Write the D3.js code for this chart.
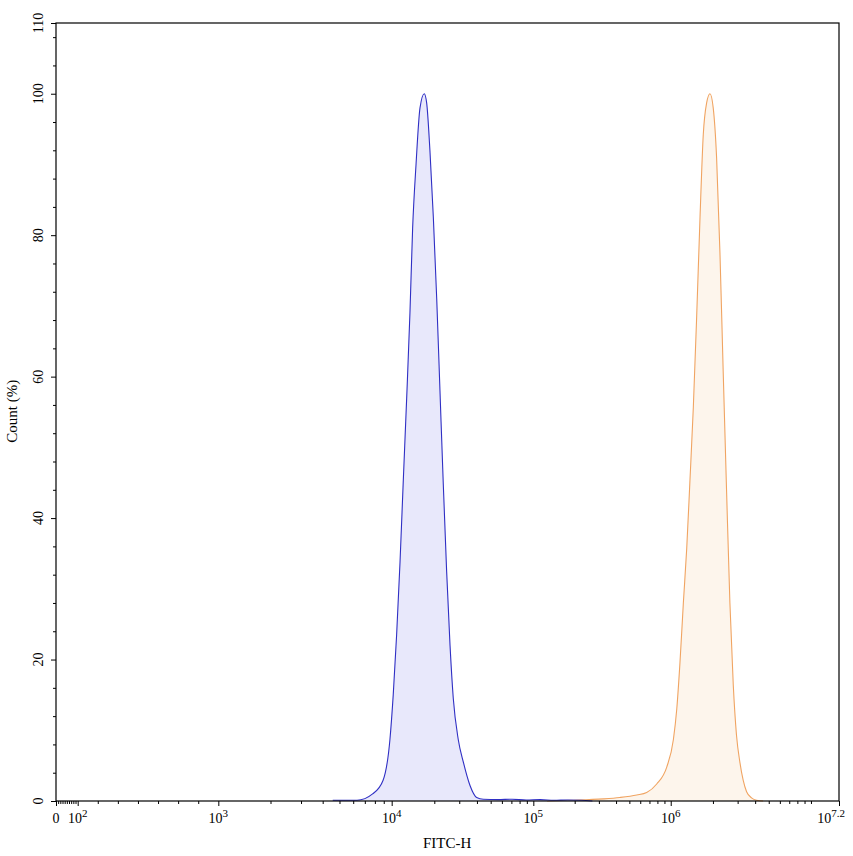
<!DOCTYPE html>
<html>
<head>
<meta charset="utf-8">
<script src="https://cdn.jsdelivr.net/npm/d3@7"></script>
<style>
  html, body { margin: 0; padding: 0; background: #fff; }
  svg { display: block; }
  text { font-family: "Liberation Serif", "Times New Roman", serif; fill: #000; }
</style>
</head>
<body>
<svg id="chart" width="853" height="856"></svg>
<script>
// ---------- data (x values are log10 of FITC-H intensity, y values are Count %) ----------
const blueLog10 = [3.66, 3.80, 3.89, 3.95, 3.99, 4.011, 4.035, 4.059, 4.082, 4.106, 4.129, 4.148, 4.172, 4.200, 4.230,
                   4.247, 4.270, 4.294, 4.318, 4.341, 4.364, 4.388, 4.412, 4.435, 4.470, 4.506, 4.553, 4.600, 4.647,
                   4.75, 4.85, 4.95, 5.05, 5.15, 5.25, 5.35, 5.43];
const blueCount = [0.1, 0.1, 1.0, 2.9, 8.7, 15, 23.5, 33.8, 45.3, 57, 69, 81, 90, 98, 100,
                   98.7, 92, 82.6, 71, 58, 45, 32.5, 22, 14.5, 8.7, 5.5, 2.2, 0.5, 0.25,
                   0.2, 0.25, 0.15, 0.2, 0.1, 0.15, 0.1, 0];

const orangeLog10 = [5.10, 5.27, 5.51, 5.63, 5.753, 5.825, 5.898, 5.971, 6.019, 6.043, 6.066, 6.090, 6.114, 6.137,
                     6.161, 6.185, 6.209, 6.232, 6.256, 6.280, 6.303, 6.327, 6.351, 6.374, 6.398, 6.422, 6.446,
                     6.469, 6.493, 6.517, 6.541, 6.576, 6.612, 6.659];
const orangeCount = [0, 0.1, 0.3, 0.5, 0.85, 1.2, 2.4, 4.8, 8.7, 13, 19.6, 28, 35.7, 45.3,
                     55.6, 68.5, 82.6, 94.2, 98.7, 100, 98, 91, 77.5, 60.8, 44, 28, 16.4,
                     9.3, 5.5, 2.9, 1.3, 0.45, 0.1, 0];

// axis tick definitions
const xMajorTicks = [1, 2, 3, 4, 5, 6, 7.2];             // 1 stands for the value 0
const xTickBase = ["0", "10", "10", "10", "10", "10", "10"];
const xTickExp = ["", "2", "3", "4", "5", "6", "7.2"];
const yMajorTicks = [0, 20, 40, 60, 80, 100, 110];
const yTickLabels = ["0", "20", "40", "60", "80", "100", "110"];
const xTitle = "FITC-H";
const yTitle = "Count (%)";

// ---------- layout ----------
const W = 853, H = 856;
const margin = { left: 56, right: 14, top: 23, bottom: 55 };
const pw = W - margin.left - margin.right;
const ph = H - margin.top - margin.bottom;

const svg = d3.select("#chart");
const g = svg.append("g").attr("transform", `translate(${margin.left},${margin.top})`);

// piecewise display scale (linear region near 0, log decades after)
const decadeFrac = [0, 0.0277, 0.2073, 0.4287, 0.6096, 0.7851, 1];
const x = d3.scaleLinear().domain(xMajorTicks).range(decadeFrac.map(f => f * pw));
const y = d3.scaleLinear().domain([0, 110]).range([ph, 0]);

// ---------- curves ----------
function drawSeries(xs, ys, stroke, fill) {
  const pts = xs.map((v, i) => [v, ys[i]]);
  const area = d3.area().x(d => x(d[0])).y0(y(0)).y1(d => y(d[1])).curve(d3.curveMonotoneX);
  const line = d3.line().x(d => x(d[0])).y(d => y(d[1])).curve(d3.curveMonotoneX);
  g.append("path").datum(pts).attr("d", area).attr("fill", fill).attr("stroke", "none");
  g.append("path").datum(pts).attr("d", line).attr("fill", "none").attr("stroke", stroke).attr("stroke-width", 1.1);
}
drawSeries(orangeLog10, orangeCount, "#f0a462", "#fdf5ec");
drawSeries(blueLog10, blueCount, "#2f2fc4", "#e8e8fb");

// ---------- frame ----------
g.append("rect").attr("x", 0).attr("y", 0).attr("width", pw).attr("height", ph)
  .attr("fill", "none").attr("stroke", "#000").attr("stroke-width", 1.2);

// ---------- x axis ----------
const xMinor = [];
for (let k = 1; k <= 9; k++) xMinor.push(1 + k / 10);
for (let k = 1; k <= 6; k++) xMinor.push(2 + k / 7);
for (let d = 3; d <= 6; d++) for (let k = 2; k <= 9; k++) xMinor.push(d + Math.log10(k));
xMinor.push(7);

const xAxisMinor = d3.axisBottom(x).tickValues(xMinor).tickSize(3).tickFormat("");
const xAxisMajor = d3.axisBottom(x).tickValues(xMajorTicks).tickSize(5).tickFormat("");
[xAxisMinor, xAxisMajor].forEach(ax => {
  const a = g.append("g").attr("transform", `translate(0,${ph})`).call(ax);
  a.select(".domain").remove();
  a.selectAll("line").attr("stroke", "#000");
});

const xl = g.append("g").attr("transform", `translate(0,${ph})`);
xMajorTicks.forEach((t, i) => {
  const last = i === xMajorTicks.length - 1;
  const tx = xl.append("text")
    .attr("x", x(t) + (last ? -8 : 0))
    .attr("y", 22)
    .attr("text-anchor", "middle")
    .style("font-size", "14px");
  tx.append("tspan").text(xTickBase[i]);
  if (xTickExp[i]) {
    tx.append("tspan").attr("dy", -6).style("font-size", "11px").text(xTickExp[i]);
  }
});

// ---------- y axis ----------
const yMinor = d3.range(4, 110, 4).filter(v => v % 20 !== 0);
const yAxisMinor = d3.axisLeft(y).tickValues(yMinor).tickSize(3).tickFormat("");
const yAxisMajor = d3.axisLeft(y).tickValues(yMajorTicks).tickSize(5).tickFormat("");
[yAxisMinor, yAxisMajor].forEach(ax => {
  const a = g.append("g").call(ax);
  a.select(".domain").remove();
  a.selectAll("line").attr("stroke", "#000");
});
yMajorTicks.forEach((t, i) => {
  g.append("text")
    .attr("transform", `translate(-13,${y(t)}) rotate(-90)`)
    .attr("text-anchor", "middle")
    .style("font-size", "14px")
    .text(yTickLabels[i]);
});

// ---------- titles ----------
svg.append("text")
  .attr("x", margin.left + pw * 0.4996)
  .attr("y", 848)
  .attr("text-anchor", "middle")
  .style("font-size", "15px")
  .text(xTitle);

svg.append("text")
  .attr("transform", `translate(17,${margin.top + ph * 0.499}) rotate(-90)`)
  .attr("text-anchor", "middle")
  .style("font-size", "15px")
  .text(yTitle);
</script>
</body>
</html>
